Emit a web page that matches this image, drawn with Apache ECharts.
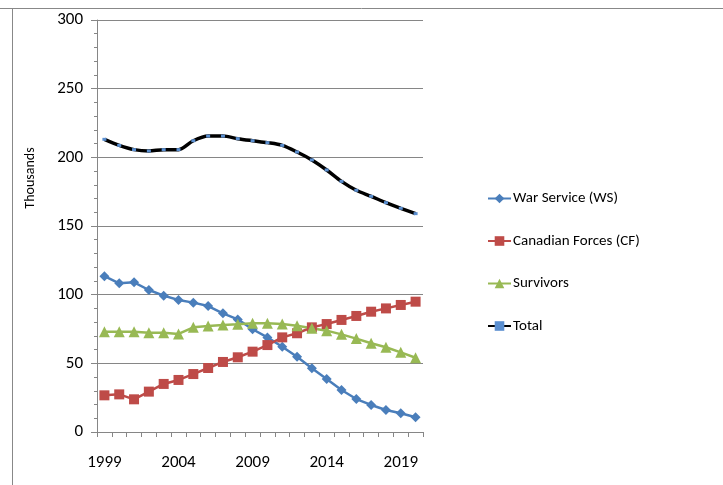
<!DOCTYPE html>
<html>
<head>
<meta charset="utf-8">
<script src="https://cdn.jsdelivr.net/npm/echarts@6/dist/echarts.min.js"></script>
<style>
html,body{margin:0;padding:0;background:#fff;}
#main{width:723px;height:485px;}
</style>
</head>
<body>
<div id="main"></div>
<script>
// years on the x axis
var years = ['1999','2000','2001','2002','2003','2004','2005','2006','2007','2008','2009',
  '2010','2011','2012','2013','2014','2015','2016','2017','2018','2019','2020'];
// thousands
var warService = [113.5,108.3,109,103.4,99.3,96.1,94.2,91.7,86.4,82,74.8,
  68.9,62.1,54.8,46.4,38.6,30.6,24,19.7,16,13.6,10.7];
var canadianForces = [26.7,27.4,23.8,29.4,35,37.9,42.2,46.6,51,54.4,58.5,
  63.3,68.9,71.9,76.2,78.6,81.6,84.5,87.6,90,92.5,94.9];
var survivors = [73,73,73,72.3,72.3,71.4,76.2,77.2,77.9,78.4,79.1,
  79.1,78.6,77.4,75.5,73.8,71.1,68,64.6,61.7,58,54.1];
var total = [213.1,208.7,205.6,204.6,205.6,205.6,212.1,215.5,215.5,213.6,212.1,
  210.7,208.7,203.9,198.1,190.8,182.5,176,171.6,167,162.9,159];

var font = "Carlito, 'Liberation Sans Narrow', Lato, sans-serif";
var axisGray = '#868686';

var chart = echarts.init(document.getElementById('main'));

var option = {
  animation: false,
  backgroundColor: '#fff',
  grid: {left: 97, right: 300, top: 20, bottom: 53},
  legend: {
    orient: 'vertical',
    left: 487,
    top: 191,
    padding: 0,
    itemWidth: 23,
    itemHeight: 12,
    itemGap: 27.5,
    selectedMode: false,
    textStyle: {fontFamily: font, fontSize: 15, color: '#000', padding: [0, 0, 0, -3]},
    data: ['War Service (WS)', 'Canadian Forces (CF)', 'Survivors', 'Total']
  },
  xAxis: {
    type: 'category',
    data: years,
    boundaryGap: true,
    axisLine: {lineStyle: {color: axisGray, width: 1}},
    axisTick: {show: true, interval: 0, length: 5, lineStyle: {color: axisGray}},
    axisLabel: {interval: 4, margin: 22, fontFamily: font, fontSize: 17, color: '#000'},
    splitLine: {show: false}
  },
  yAxis: {
    type: 'value',
    min: 0,
    max: 300,
    interval: 50,
    axisLine: {show: true, lineStyle: {color: axisGray, width: 1}},
    axisTick: {show: true, length: 6, lineStyle: {color: axisGray}},
    minorTick: {show: true, splitNumber: 5, length: 3, lineStyle: {color: axisGray}},
    axisLabel: {margin: 14, fontFamily: font, fontSize: 17, color: '#000'},
    splitLine: {show: true, lineStyle: {color: axisGray, width: 1}}
  },
  series: [
    {
      name: 'War Service (WS)',
      type: 'line',
      data: warService,
      showAllSymbol: true,
      symbol: 'diamond',
      symbolSize: 10,
      lineStyle: {color: '#4A7EBB', width: 2.5},
      itemStyle: {color: '#4A7EBB'}
    },
    {
      name: 'Canadian Forces (CF)',
      type: 'line',
      data: canadianForces,
      showAllSymbol: true,
      symbol: 'rect',
      symbolSize: 10,
      lineStyle: {color: '#BE4B48', width: 2.5},
      itemStyle: {color: '#BE4B48'}
    },
    {
      name: 'Survivors',
      type: 'line',
      data: survivors,
      showAllSymbol: true,
      symbol: 'triangle',
      symbolSize: 11,
      lineStyle: {color: '#98B954', width: 2.5},
      itemStyle: {color: '#98B954'}
    },
    {
      name: 'Total',
      type: 'line',
      data: total,
      smooth: 0.3,
      showAllSymbol: true,
      symbol: 'rect',
      symbolSize: [4, 3],
      lineStyle: {color: '#000', width: 3.5},
      itemStyle: {color: '#5B8FD0'}
    }
  ],
  graphic: [
    {type: 'line', shape: {x1: 0, y1: 8.5, x2: 723, y2: 8.5}, style: {stroke: '#888', lineWidth: 1}},
    {type: 'line', shape: {x1: 12.5, y1: 8, x2: 12.5, y2: 485}, style: {stroke: '#888', lineWidth: 1}},
    {
      type: 'text',
      x: 30,
      y: 178,
      rotation: Math.PI / 2,
      style: {text: 'Thousands', font: '14px ' + font, fill: '#000', align: 'center', verticalAlign: 'middle'}
    }
  ]
};

chart.setOption(option);
</script>
</body>
</html>
